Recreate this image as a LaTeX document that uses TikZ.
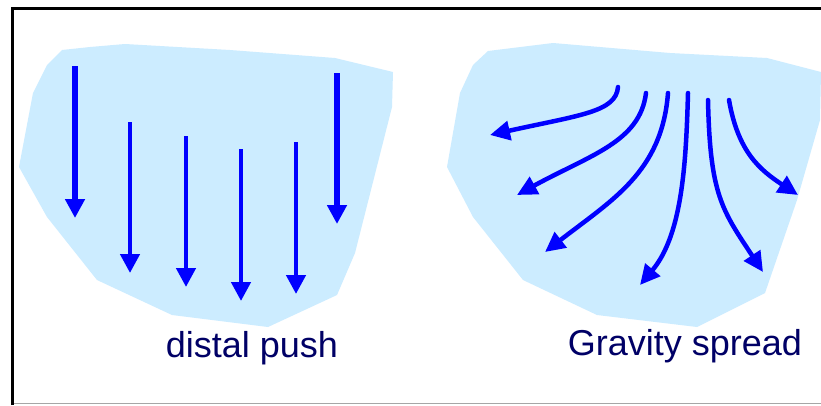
\documentclass[tikz,border=0pt]{standalone}
\usepackage{fontspec}
\setmainfont{Liberation Sans}
\usetikzlibrary{arrows.meta}
\definecolor{blob}{RGB}{204,236,255}
\definecolor{arrblue}{RGB}{0,0,255}
\definecolor{navy}{RGB}{0,0,102}
\tikzset{
  blobshape/.style={fill=blob, draw=none},
  pusharr/.style={draw=arrblue, line width=4.5pt, -{Triangle[length=19pt,width=19pt]}},
  pusharrthick/.style={pusharr, line width=5.5pt},
  spreadarr/.style={draw=arrblue, line width=4.5pt, line cap=round, -{Triangle[length=20pt,width=19pt]}},
  lbl/.style={anchor=base, text=navy, font=\fontsize{36}{40}\selectfont, inner sep=0pt}
}
\begin{document}
\begin{tikzpicture}[x=1pt,y=-1pt]
\useasboundingbox (0,0) rectangle (821,405);
\fill[white] (0,0) rectangle (821,405);
% frame
\draw[gray!70, line width=1.5pt] (11,403.5) -- (821,403.5);
\draw[black, line width=3pt] (12.5,405) -- (12.5,8.5) -- (821,8.5);
% left blob
\path[blobshape] (47,65) -- (62,50) -- (90,47) -- (125,44) -- (230,50) -- (335,58) -- (393,72)
  -- (392,107) -- (355,253) -- (337,295) -- (268,327) -- (172,315) -- (97,280)
  -- (47,217) -- (19,167) -- (33,93) -- cycle;
% right blob
\path[blobshape] (473,65) -- (488,51) -- (553,43) -- (670,53) -- (767,58) -- (821,72)
  -- (820,120) -- (797,200) -- (765,293) -- (697,327) -- (597,315) -- (523,280)
  -- (473,217) -- (447,167) -- (460,93) -- cycle;
% distal push arrows
\coordinate (p1s) at (75,66);  \coordinate (p1e) at (75,218);
\coordinate (p2s) at (130,122); \coordinate (p2e) at (130,273);
\coordinate (p3s) at (186,136); \coordinate (p3e) at (186,287);
\coordinate (p4s) at (241,149); \coordinate (p4e) at (241,301);
\coordinate (p5s) at (296,142); \coordinate (p5e) at (296,294);
\coordinate (p6s) at (337,73);  \coordinate (p6e) at (337,224);
\draw[pusharrthick] (p1s) -- (p1e);
\draw[pusharr] (p2s) -- (p2e);
\draw[pusharr] (p3s) -- (p3e);
\draw[pusharr] (p4s) -- (p4e);
\draw[pusharr] (p5s) -- (p5e);
\draw[pusharrthick] (p6s) -- (p6e);
% gravity spread arrows
\coordinate (g1s) at (618,87);  \coordinate (g1e) at (490,135);
\coordinate (g2s) at (646,93);  \coordinate (g2e) at (517,195);
\coordinate (g3s) at (668,93);  \coordinate (g3e) at (545,252);
\coordinate (g4s) at (688,93);  \coordinate (g4e) at (640,285);
\coordinate (g5s) at (708,100); \coordinate (g5e) at (763,272);
\coordinate (g6s) at (729,100); \coordinate (g6e) at (798,195);
\draw[spreadarr] (g1s) .. controls (616,112) and (580,115) .. (g1e);
\draw[spreadarr] (g2s) .. controls (640,142) and (590,155) .. (g2e);
\draw[spreadarr] (g3s) .. controls (662,172) and (612,200) .. (g3e);
\draw[spreadarr] (g4s) .. controls (686,165) and (682,235) .. (g4e);
\draw[spreadarr] (g5s) .. controls (710,195) and (722,210) .. (g5e);
\draw[spreadarr] (g6s) .. controls (738,152) and (760,170) .. (g6e);
% labels
\node[lbl] (l1) at (252,357) {distal push};
\node[lbl] (l2) at (685,355) {Gravity spread};
\end{tikzpicture}
\end{document}
